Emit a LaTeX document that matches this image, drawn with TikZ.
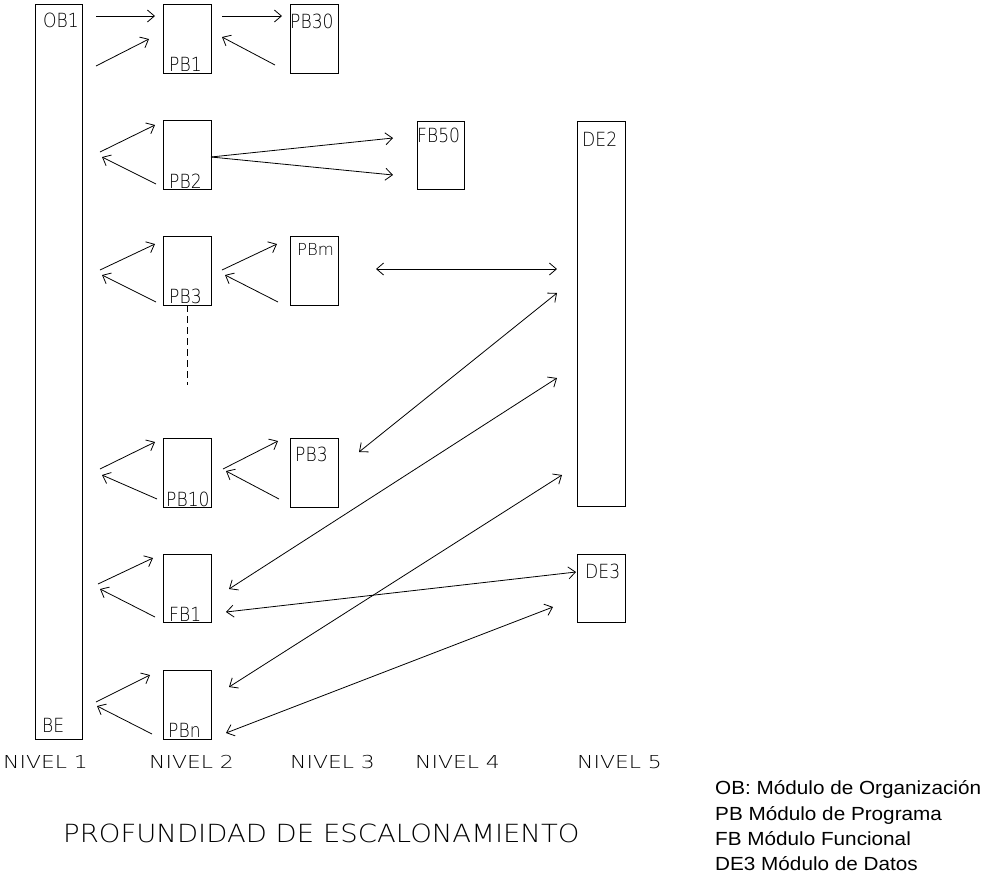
\documentclass[tikz,border=0pt]{standalone}
\usepackage{fontspec}
\setmainfont{Liberation Sans}
\newfontfamily\cad{DejaVu Sans ExtraLight}
\usetikzlibrary{arrows.meta}
\newcommand{\cadtxt}[1]{\scalebox{0.88}[1]{#1}}
\tikzset{
  mbox/.style={draw, line width=0.9pt, inner sep=0pt, minimum width=48pt, minimum height=69pt},
  lab/.style={inner sep=0pt, anchor=base west, font=\cad\fontsize{19.5}{19.5}\selectfont},
  nivel/.style={inner sep=0pt, anchor=base west, font=\cad\fontsize{17.8}{18}\selectfont},
  legend/.style={inner sep=0pt, anchor=base west, font=\fontsize{19}{19}\selectfont},
  conn/.style={line width=0.8pt, -{Straight Barb[length=7pt,width=12pt]}},
  dconn/.style={line width=0.8pt, {Straight Barb[length=7pt,width=12pt]}-{Straight Barb[length=7pt,width=12pt]}},
}
\begin{document}
\begin{tikzpicture}[x=1pt,y=-1pt]
\fill[white] (0,0) rectangle (991,884);
\useasboundingbox (0,0) rectangle (991,884);

% boxes
\node[mbox, minimum width=47pt, minimum height=735pt] (ob) at (58.5,371.5) {};
\node[mbox] (pb1) at (187,38.5) {};
\node[mbox] (pb30) at (314,38.5) {};
\node[mbox] (pb2) at (187,154.5) {};
\node[mbox, minimum width=47pt, minimum height=68pt] (fb50) at (440.5,155) {};
\node[mbox, minimum height=385pt] (de2) at (601,313.5) {};
\node[mbox] (pb3) at (187,270.5) {};
\node[mbox] (pbm) at (314,270.5) {};
\node[mbox] (pb10) at (187,472.5) {};
\node[mbox] (pb3b) at (314,472.5) {};
\node[mbox, minimum height=68pt] (fb1) at (187,588) {};
\node[mbox] (pbn) at (187,704.5) {};
\node[mbox, minimum height=68pt] (de3) at (601,588) {};

% labels
\node[lab] (tob1) at (43,27) {\cadtxt{OB1}};
\node[lab] (tbe) at (42,732) {\cadtxt{BE}};
\node[lab] (tpb1) at (169,71) {\cadtxt{PB1}};
\node[lab] (tpb30) at (290,28) {\cadtxt{PB30}};
\node[lab] (tpb2) at (169,188) {\cadtxt{PB2}};
\node[lab] (tfb50) at (417,142) {\cadtxt{FB50}};
\node[lab] (tde2) at (582,146) {\cadtxt{DE2}};
\node[lab] (tpb3) at (169,303) {\cadtxt{PB3}};
\node[lab, font=\cad\fontsize{16.5}{16.5}\selectfont] (tpbm) at (297,255) {PBm};
\node[lab] (tpb10) at (166,506) {\cadtxt{PB10}};
\node[lab] (tpb3b) at (295,461) {\cadtxt{PB3}};
\node[lab] (tfb1) at (169,621) {\cadtxt{FB1}};
\node[lab] (tpbn) at (168,737) {\cadtxt{PBn}};
\node[lab] (tde3) at (585,578) {\cadtxt{DE3}};

% dashed continuation
\coordinate (dend) at (187,385);
\draw[line width=0.8pt, dash pattern=on 7pt off 4pt] (pb3.south) -- (dend);

% arrow end points
\coordinate (a1s) at (96,16);   \coordinate (a1e) at (155,16);
\coordinate (a2s) at (96,66);   \coordinate (a2e) at (149,39);
\coordinate (a3s) at (222,16);  \coordinate (a3e) at (282,16);
\coordinate (a4s) at (275,65);  \coordinate (a4e) at (222,37);
\coordinate (a5s) at (100,152); \coordinate (a5e) at (155,125);
\coordinate (a6s) at (156,184); \coordinate (a6e) at (102,157);
\coordinate (a7s) at (211,157); \coordinate (a7e) at (393,138);
\coordinate (a8e) at (393,175);
\coordinate (a9s) at (100,270); \coordinate (a9e) at (155,244);
\coordinate (a10s) at (156,302); \coordinate (a10e) at (102,275);
\coordinate (a11s) at (222,270); \coordinate (a11e) at (277,244);
\coordinate (a12s) at (278,302); \coordinate (a12e) at (225,275);
\coordinate (a13s) at (100,469); \coordinate (a13e) at (155,442);
\coordinate (a14s) at (157,499); \coordinate (a14e) at (102,475);
\coordinate (a15s) at (223,469); \coordinate (a15e) at (278,441);
\coordinate (a16s) at (279,499); \coordinate (a16e) at (226,471);
\coordinate (a17s) at (98,584);  \coordinate (a17e) at (153,558);
\coordinate (a18s) at (155,617); \coordinate (a18e) at (100,589);
\coordinate (a19s) at (96,702);  \coordinate (a19e) at (150,675);
\coordinate (a20s) at (152,734); \coordinate (a20e) at (97,706);
\coordinate (d1s) at (376,269); \coordinate (d1e) at (557,269);
\coordinate (d2s) at (359,452); \coordinate (d2e) at (557,293);
\coordinate (d3s) at (229,589); \coordinate (d3e) at (557,378);
\coordinate (d4s) at (229,687); \coordinate (d4e) at (562,475);
\coordinate (d5s) at (226,612); \coordinate (d5e) at (576,572);
\coordinate (d6s) at (226,733); \coordinate (d6e) at (553,607);

% single arrows
\foreach \i in {1,2,3,4,5,6,9,10,11,12,13,14,15,16,17,18,19,20}
  \draw[conn] (a\i s) -- (a\i e);
\draw[conn] (a7s) -- (a7e);
\draw[conn] (a7s) -- (a8e);

% double arrows
\foreach \i in {1,...,6}
  \draw[dconn] (d\i s) -- (d\i e);

% level labels
\node[nivel] (n1) at (3,768) {\scalebox{1.23}[1]{NIVEL 1}};
\node[nivel] (n2) at (149,768) {\scalebox{1.23}[1]{NIVEL 2}};
\node[nivel] (n3) at (290,768) {\scalebox{1.23}[1]{NIVEL 3}};
\node[nivel] (n4) at (415,768) {\scalebox{1.23}[1]{NIVEL 4}};
\node[nivel] (n5) at (577,768) {\scalebox{1.23}[1]{NIVEL 5}};

\node[inner sep=0pt, anchor=base west, font=\cad\fontsize{25}{25}\selectfont] (title) at (63,842)
  {\scalebox{1.1}[1]{PROFUNDIDAD DE ESCALONAMIENTO}};

% legend
\node[legend] (l1) at (715,794) {\scalebox{1.09}[1]{OB: Módulo de Organización}};
\node[legend] (l2) at (715,820) {\scalebox{1.09}[1]{PB Módulo de Programa}};
\node[legend] (l3) at (715,845) {\scalebox{1.09}[1]{FB Módulo Funcional}};
\node[legend] (l4) at (715,870) {\scalebox{1.09}[1]{DE3 Módulo de Datos}};
\end{tikzpicture}
\end{document}
